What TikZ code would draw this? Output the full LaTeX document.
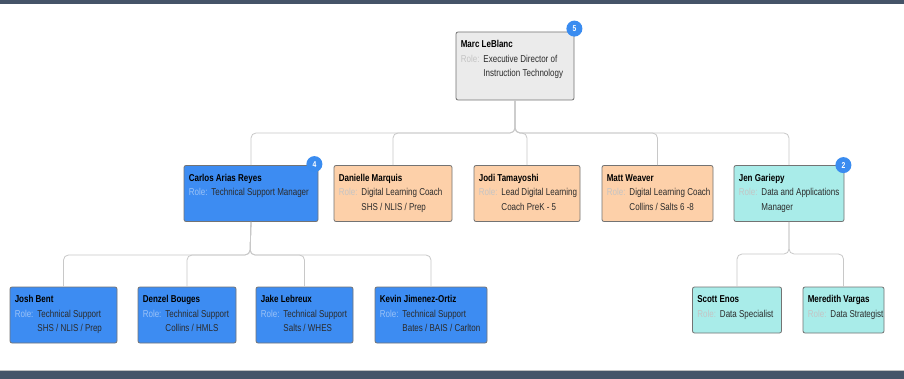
\documentclass[tikz,border=0pt]{standalone}
\usepackage{fontspec}
\setmainfont{Liberation Sans}[FakeStretch=0.8]
\usetikzlibrary{positioning}
\definecolor{barslate}{HTML}{455468}
\definecolor{boxgray}{HTML}{EBEBEB}
\definecolor{boxblue}{HTML}{3D8CF2}
\definecolor{boxpeach}{HTML}{FDD0A9}
\definecolor{boxcyan}{HTML}{A9ECE9}
\definecolor{badgeblue}{HTML}{3A8CF0}
\definecolor{linegray}{HTML}{C8C8C8}
\definecolor{rolegray}{HTML}{C4C4C4}
\definecolor{roleblue}{HTML}{9CC3F7}
\definecolor{valtext}{HTML}{2B2B2B}
\newcommand{\cardtext}[4][rolegray]{\begin{tabular}{@{}l@{\hspace{4pt}}l@{}}\multicolumn{2}{@{}l@{}}{\bfseries\color{black}#2}\\ \textcolor{#1}{Role:} & #3\\ & #4\end{tabular}}

\begin{document}
\begin{tikzpicture}[x=1pt,y=1pt,
    card/.style={draw=black!55,line width=0.8pt,rounded corners=2pt,inner sep=0pt},
    cardtxt/.style={anchor=north west,inner sep=0pt,text=valtext,font=\fontsize{10}{14.5}\selectfont},
    badge/.style={circle,fill=badgeblue,text=white,inner sep=0pt,minimum size=16pt,font=\fontsize{8.5}{8.5}\selectfont\bfseries},
    conn/.style={draw=linegray,line width=0.8pt,rounded corners=5pt}]
        \useasboundingbox (0,0) rectangle (904,-379);
        \fill[white] (0,0) rectangle (904,-379);
        \fill[barslate] (0,0) rectangle (904,-4);
        \fill[barslate] (0,-371) rectangle (904,-379);
        \draw[black!25,line width=0.6pt] (0,-370.5)--(904,-370.5);

        \coordinate (bus-top) at (515,-133);
        \coordinate (bus-it) at (250,-255);
        \coordinate (bus-data) at (789,-254);

        \node[card,fill=boxgray,minimum width=118pt,minimum height=68pt] (marc) at (515,-66) {};
        \node[card,fill=boxblue,minimum width=134pt,minimum height=56pt] (carlos) at (251,-193.5) {};
        \node[card,fill=boxpeach,minimum width=118pt,minimum height=56pt] (danielle) at (393,-193.5) {};
        \node[card,fill=boxpeach,minimum width=106pt,minimum height=56pt] (jodi) at (527,-193.5) {};
        \node[card,fill=boxpeach,minimum width=111pt,minimum height=56pt] (matt) at (657.5,-193.5) {};
        \node[card,fill=boxcyan,minimum width=110pt,minimum height=56pt] (jen) at (789,-193.5) {};
        \node[card,fill=boxblue,minimum width=107pt,minimum height=56pt] (josh) at (63.5,-315) {};
        \node[card,fill=boxblue,minimum width=98pt,minimum height=56pt] (denzel) at (187,-315) {};
        \node[card,fill=boxblue,minimum width=97pt,minimum height=56pt] (jake) at (304.5,-315) {};
        \node[card,fill=boxblue,minimum width=112pt,minimum height=56pt] (kevin) at (431,-315) {};
        \node[card,fill=boxcyan,minimum width=89pt,minimum height=46pt] (scott) at (737,-310) {};
        \node[card,fill=boxcyan,minimum width=81pt,minimum height=46pt] (meredith) at (843.5,-310) {};

        \node[cardtxt] (marc-t) at ([shift={(5,-6)}]marc.north west) {\cardtext{Marc LeBlanc}{Executive Director of}{Instruction Technology}};
        \node[cardtxt] (carlos-t) at ([shift={(5,-6)}]carlos.north west) {\cardtext[roleblue]{Carlos Arias Reyes}{Technical Support Manager}{}};
        \node[cardtxt] (danielle-t) at ([shift={(5,-6)}]danielle.north west) {\cardtext{Danielle Marquis}{Digital Learning Coach}{SHS / NLIS / Prep}};
        \node[cardtxt] (jodi-t) at ([shift={(5,-6)}]jodi.north west) {\cardtext{Jodi Tamayoshi}{Lead Digital Learning}{Coach PreK - 5}};
        \node[cardtxt] (matt-t) at ([shift={(5,-6)}]matt.north west) {\cardtext{Matt Weaver}{Digital Learning Coach}{Collins / Salts 6 -8}};
        \node[cardtxt] (jen-t) at ([shift={(5,-6)}]jen.north west) {\cardtext{Jen Gariepy}{Data and Applications}{Manager}};
        \node[cardtxt] (josh-t) at ([shift={(5,-6)}]josh.north west) {\cardtext[roleblue]{Josh Bent}{Technical Support}{SHS / NLIS / Prep}};
        \node[cardtxt] (denzel-t) at ([shift={(5,-6)}]denzel.north west) {\cardtext[roleblue]{Denzel Bouges}{Technical Support}{Collins / HMLS}};
        \node[cardtxt] (jake-t) at ([shift={(5,-6)}]jake.north west) {\cardtext[roleblue]{Jake Lebreux}{Technical Support}{Salts / WHES}};
        \node[cardtxt] (kevin-t) at ([shift={(5,-6)}]kevin.north west) {\cardtext[roleblue]{Kevin Jimenez-Ortiz}{Technical Support}{Bates / BAIS / Carlton}};
        \node[cardtxt] (scott-t) at ([shift={(5,-6)}]scott.north west) {\cardtext{Scott Enos}{Data Specialist}{}};
        \node[cardtxt] (meredith-t) at ([shift={(5,-6)}]meredith.north west) {\cardtext{Meredith Vargas}{Data Strategist}{}};

        \draw[conn] (marc.south)--(bus-top)-|(carlos.north);
        \draw[conn] (marc.south)--(bus-top)-|(danielle.north);
        \draw[conn] (marc.south)--(bus-top)-|(jodi.north);
        \draw[conn] (marc.south)--(bus-top)-|(matt.north);
        \draw[conn] (marc.south)--(bus-top)-|(jen.north);
        \draw[conn] (carlos.south)--(bus-it)-|(josh.north);
        \draw[conn] (carlos.south)--(bus-it)-|(denzel.north);
        \draw[conn] (carlos.south)--(bus-it)-|(jake.north);
        \draw[conn] (carlos.south)--(bus-it)-|(kevin.north);
        \draw[conn] (jen.south)--(bus-data)-|(scott.north);
        \draw[conn] (jen.south)--(bus-data)-|(meredith.north);

        \node[badge] (marc-b) at ([shift={(0,3)}]marc.north east) {5};
        \node[badge] (carlos-b) at ([shift={(-4,1)}]carlos.north east) {4};
        \node[badge] (jen-b) at ([shift={(-1,0)}]jen.north east) {2};
    \end{tikzpicture}
\end{document}
